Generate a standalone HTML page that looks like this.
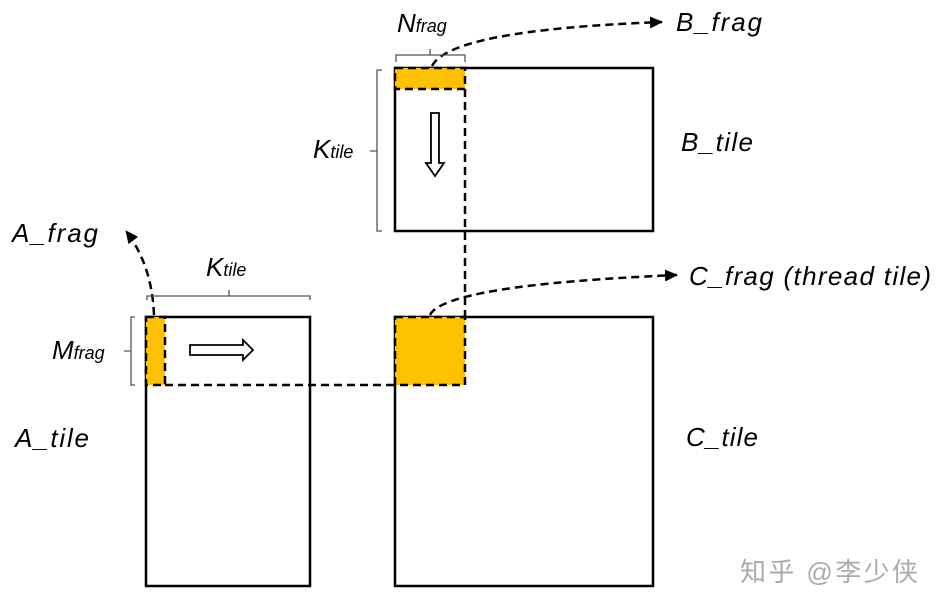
<!DOCTYPE html>
<html><head><meta charset="utf-8"><style>
html,body{margin:0;padding:0;background:#fff;width:942px;height:609px;overflow:hidden}
svg text{font-family:"Liberation Sans","Noto Sans CJK SC",sans-serif;font-style:italic}
</style></head><body>
<svg width="942" height="609" viewBox="0 0 942 609" xmlns="http://www.w3.org/2000/svg">
<defs><marker id="ah" markerWidth="14" markerHeight="14" refX="12" refY="6" orient="auto" markerUnits="userSpaceOnUse"><path d="M0,0 L13,6 L0,12 z" fill="#000"/></marker></defs>
<!-- B tile -->
<rect x="395" y="68" width="258" height="163" fill="#fff" stroke="#000" stroke-width="2.5"/>
<rect x="395" y="68" width="70" height="21" fill="#FFC000" stroke="#000" stroke-width="2.5" stroke-dasharray="8,5"/>
<!-- A tile -->
<rect x="146" y="317" width="164" height="269" fill="#fff" stroke="#000" stroke-width="2.5"/>
<rect x="146" y="317" width="19" height="68" fill="#FFC000" stroke="#000" stroke-width="2.5" stroke-dasharray="8,5"/>
<!-- C tile -->
<rect x="395" y="317" width="258" height="269" fill="#fff" stroke="#000" stroke-width="2.5"/>
<rect x="395" y="317" width="70" height="68" fill="#FFC000" stroke="#000" stroke-width="2.5" stroke-dasharray="8,5"/>
<!-- dashed guides -->
<line x1="465" y1="89" x2="465" y2="317" stroke="#000" stroke-width="2.5" stroke-dasharray="8,5"/>
<line x1="165" y1="385" x2="395" y2="385" stroke="#000" stroke-width="2.5" stroke-dasharray="8,5"/>
<!-- curved arrows -->
<path d="M432,66 Q450,30 662,22" fill="none" stroke="#000" stroke-width="2.5" stroke-dasharray="8,5" marker-end="url(#ah)"/>
<path d="M430,315 Q445,285 677,275" fill="none" stroke="#000" stroke-width="2.5" stroke-dasharray="8,5" marker-end="url(#ah)"/>
<path d="M154,315 Q152,265 126,231" fill="none" stroke="#000" stroke-width="2.5" stroke-dasharray="8,5" marker-end="url(#ah)"/>
<!-- braces -->
<path d="M396,62 V55 H465 V62 M430,55 V49" fill="none" stroke="#555" stroke-width="1.3"/>
<path d="M382,70 H377 V231 H382 M377,151 H370" fill="none" stroke="#555" stroke-width="1.3"/>
<path d="M147,300 V296 H310 V300 M229,296 V290" fill="none" stroke="#555" stroke-width="1.3"/>
<path d="M135,317 H131 V385 H135 M131,351 H124" fill="none" stroke="#555" stroke-width="1.3"/>
<!-- hollow arrows -->
<path d="M431,113 H439 V163 H444 L435,176 L426,163 H431 Z" fill="#fff" stroke="#000" stroke-width="1.8"/>
<path d="M190,345 H243 V340 L253,350 L243,360 V355 H190 Z" fill="#fff" stroke="#000" stroke-width="1.8"/>
<!-- labels -->
<text x="397" y="32" font-size="26">N<tspan font-size="18">frag</tspan></text>
<text x="676" y="31" font-size="26" textLength="86">B_frag</text>
<text x="681" y="151" font-size="26" textLength="72">B_tile</text>
<text x="313" y="158" font-size="26">K<tspan font-size="18">tile</tspan></text>
<text x="12" y="242" font-size="26" textLength="86">A_frag</text>
<text x="206" y="276" font-size="26">K<tspan font-size="18">tile</tspan></text>
<text x="689" y="285" font-size="26" textLength="242">C_frag (thread tile)</text>
<text x="52" y="359" font-size="26">M<tspan font-size="18">frag</tspan></text>
<text x="15" y="447" font-size="26" textLength="74">A_tile</text>
<text x="686" y="446" font-size="26" textLength="72">C_tile</text>
<text x="740" y="581" font-size="26" fill="#aaa" style="font-style:normal" textLength="178">知乎 @李少侠</text>
</svg>
</body></html>
